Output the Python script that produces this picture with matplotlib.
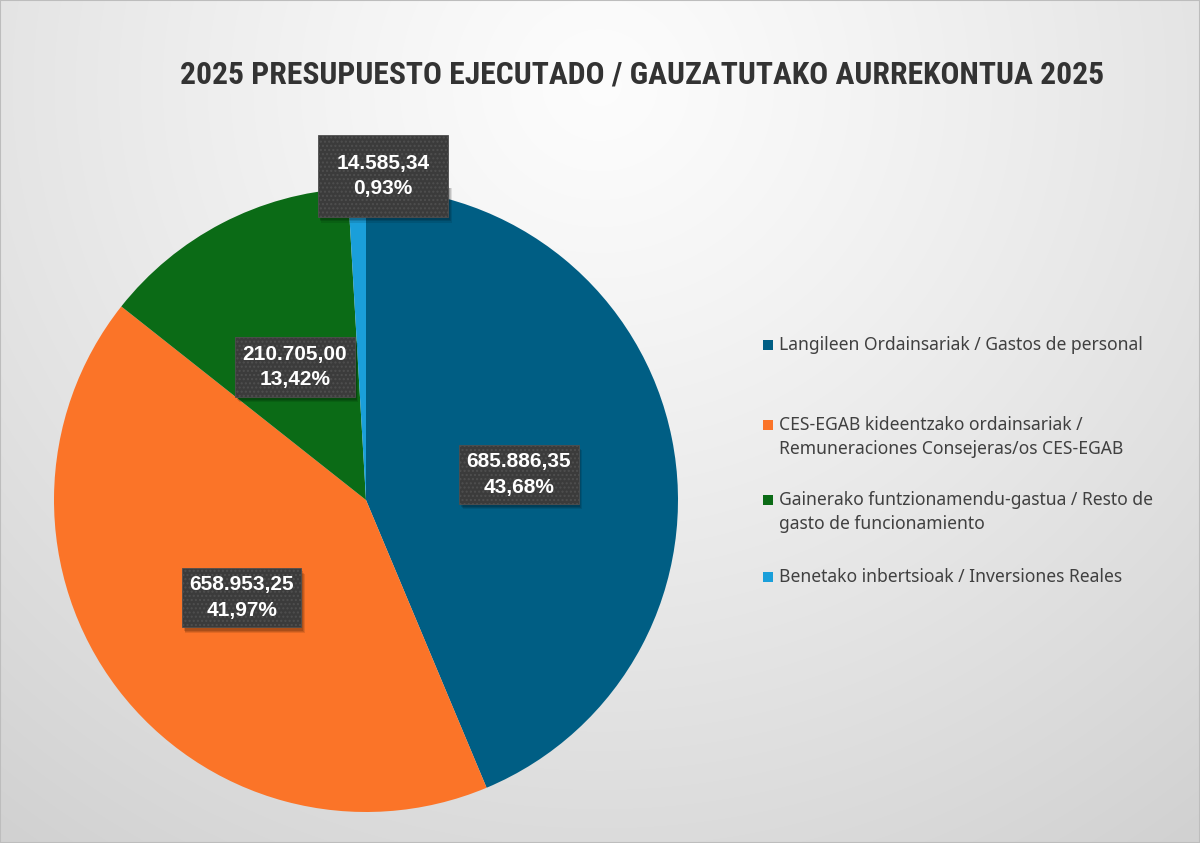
import numpy as np
import matplotlib
matplotlib.use("Agg")
from matplotlib import pyplot as plt
from matplotlib.patches import Rectangle

# datos del grafico
categorias = [
    "Langileen Ordainsariak / Gastos de personal",
    "CES-EGAB kideentzako ordainsariak /\nRemuneraciones Consejeras/os CES-EGAB",
    "Gainerako funtzionamendu-gastua / Resto de\ngasto de funcionamiento",
    "Benetako inbertsioak / Inversiones Reales",
]
importes = [685886.35, 658953.25, 210705.00, 14585.34]
etiquetas_importe = ["685.886,35", "658.953,25", "210.705,00", "14.585,34"]
etiquetas_pct = ["43,68%", "41,97%", "13,42%", "0,93%"]
colores = ["#005E84", "#FB7428", "#0B6B16", "#1A9FDA"]
titulo = "2025 PRESUPUESTO EJECUTADO / GAUZATUTAKO AURREKONTUA 2025"

# posicion de las etiquetas (radio y desplazamiento angular)
radio_etq = [0.497, 0.507, 0.483, 1.04]
desp_ang = [-1.8, 1.0, 0.6, -4.7]
pad_etq = [0.35, 0.35, 0.35, 0.9]

fig = plt.figure(figsize=(12, 8.43), dpi=100)

#---------------------------------------------------------------------------------------------
# fondo con degradado radial
fondo = fig.add_axes([0, 0, 1, 1], zorder=-10)
xx, yy = np.meshgrid(np.linspace(0, 1, 600), np.linspace(0, 1, 420))
d = np.sqrt(((xx - 0.5) * 1.1) ** 2 + ((yy - 0.9) * 0.8) ** 2)
d = np.clip(d / 0.9, 0, 1)
gris = 0.99 - 0.17 * d ** 1.2
fondo.imshow(np.dstack([gris, gris, gris]), origin="lower", extent=[0, 1, 0, 1],
             aspect="auto", interpolation="bilinear")
fondo.add_patch(Rectangle((0, 0), 1, 1, facecolor="none", edgecolor="#bdbdbd",
                          linewidth=1.5, transform=fondo.transAxes))
fondo.set_xlim(0, 1)
fondo.set_ylim(0, 1)
fondo.axis("off")

#---------------------------------------------------------------------------------------------
# tarta
ax = fig.add_axes([54 / 1200, 31 / 843, 624 / 1200, 624 / 843])
cunas, _ = ax.pie(importes, colors=colores, startangle=90, counterclock=False,
                  radius=1, wedgeprops=dict(linewidth=0))
ax.set_xlim(-1, 1)
ax.set_ylim(-1, 1)
ax.set_aspect("equal")
ax.axis("off")

textos = []
for i, w in enumerate(cunas):
    ang = np.deg2rad((w.theta1 + w.theta2) / 2 + desp_ang[i])
    x = radio_etq[i] * np.cos(ang)
    y = radio_etq[i] * np.sin(ang)
    t = ax.text(x, y, etiquetas_importe[i] + "\n" + etiquetas_pct[i],
                ha="center", va="center", fontsize=15, fontweight="bold",
                family=["Liberation Sans", "DejaVu Sans"], linespacing=1.45,
                color="white", zorder=5,
                bbox=dict(boxstyle="square,pad=%s" % pad_etq[i], facecolor="#3b3b3b",
                          edgecolor="#4f4f4f", linewidth=0.6, hatch="...."))
    textos.append(t)

# sombra de las cajas
fig.canvas.draw()
desp = 4 / 312  # unos 4 px en unidades de datos
for t in textos:
    bb = t.get_bbox_patch().get_window_extent().transformed(ax.transData.inverted())
    for k, a in enumerate([0.10, 0.12, 0.14]):
        e = desp * (1.4 - 0.3 * k)
        ax.add_patch(Rectangle((bb.x0 + e * 0.6, bb.y0 - e), bb.width, bb.height,
                               facecolor="black", alpha=a, edgecolor="none", zorder=4))

#---------------------------------------------------------------------------------------------
# titulo
fig.text(0.535, 1 - 75 / 843, titulo, ha="center", va="center", fontsize=22.8,
         fontweight="bold", color="#333333",
         family=["Roboto Condensed", "Roboto", "DejaVu Sans"])

#---------------------------------------------------------------------------------------------
# leyenda manual
y_leyenda = [345, 437, 512, 577]
for i, cat in enumerate(categorias):
    yc = 1 - y_leyenda[i] / 843
    n_lineas = cat.count("\n") + 1
    y_primera = yc + (n_lineas - 1) * 12 / 843
    fig.patches.append(Rectangle((763 / 1200, y_primera - 5 / 843), 10 / 1200, 10 / 843,
                                 transform=fig.transFigure, facecolor=colores[i],
                                 edgecolor="none"))
    fig.text(779 / 1200, yc, cat, ha="left", va="center", fontsize=12.6,
             color="#404040", linespacing=1.45, family=["Noto Sans", "DejaVu Sans"])

fig.savefig("out.png", dpi=100)
